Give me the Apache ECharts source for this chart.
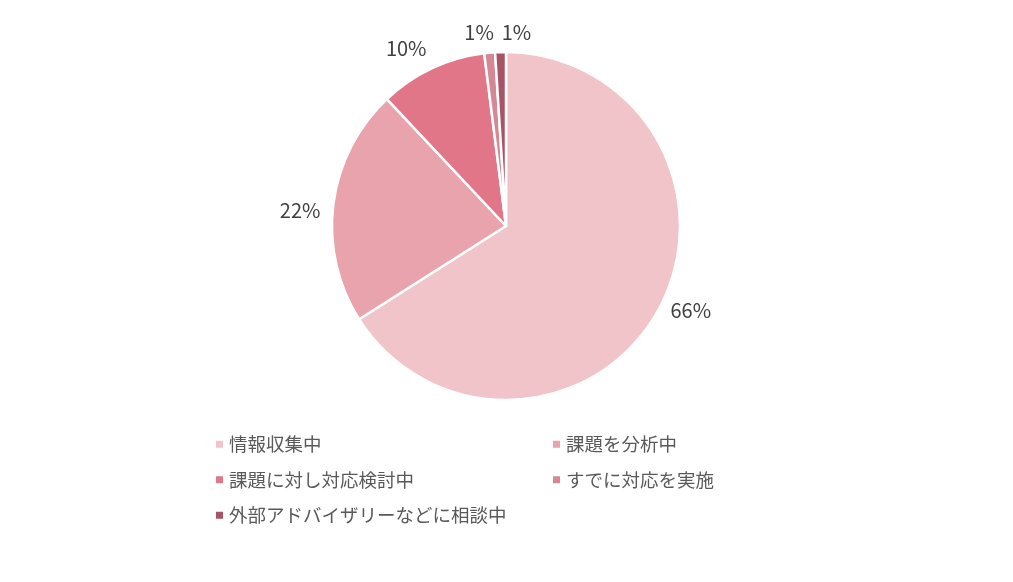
<!DOCTYPE html>
<html><head><meta charset="utf-8">
<script src="https://cdn.jsdelivr.net/npm/echarts@6/dist/echarts.min.js"></script>
<style>html,body{margin:0;padding:0;background:#fff}#c{width:1013px;height:582px}</style>
</head><body><div id="c"></div>
<script>
const categories = ['情報収集中','課題を分析中','課題に対し対応検討中','すでに対応を実施','外部アドバイザリーなどに相談中'];
const values = [66, 22, 10, 1, 1];
const colors = ['#F0C4C9','#E8A3AC','#E27689','#D48893','#A85466'];
const labelShift = [[0, -3], [0, 7], [3, -13], [10, -12], [36, -12]];
const chart = echarts.init(document.getElementById('c'));
const font = '"Noto Sans CJK JP", "Noto Sans", sans-serif';
const legendBase = {
  orient: 'vertical', icon: 'rect', itemWidth: 9, itemHeight: 9, itemGap: 17,
  textStyle: { fontSize: 18.5, color: '#595959', fontFamily: font }
};
chart.setOption({
  animation: false,
  color: colors,
  legend: [
    Object.assign({}, legendBase, { left: 209, top: 430, data: [categories[0], categories[2], categories[4]] }),
    Object.assign({}, legendBase, { left: 546, top: 430, data: [categories[1], categories[3]] })
  ],
  series: [{
    type: 'pie',
    center: [506, 226],
    radius: 174,
    startAngle: 90,
    clockwise: true,
    avoidLabelOverlap: false,
    itemStyle: { borderColor: '#fff', borderWidth: 2.5 },
    label: { show: true, position: 'outside', formatter: '{c}%', fontSize: 20, color: '#404040', fontFamily: font },
    labelLine: { show: false, length: 8, length2: 0 },
    labelLayout: function (p) {
      const s = labelShift[p.dataIndex];
      return { hideOverlap: false, dx: s[0], dy: s[1] };
    },
    data: categories.map((n, i) => ({ name: n, value: values[i] }))
  }]
});
</script></body></html>
